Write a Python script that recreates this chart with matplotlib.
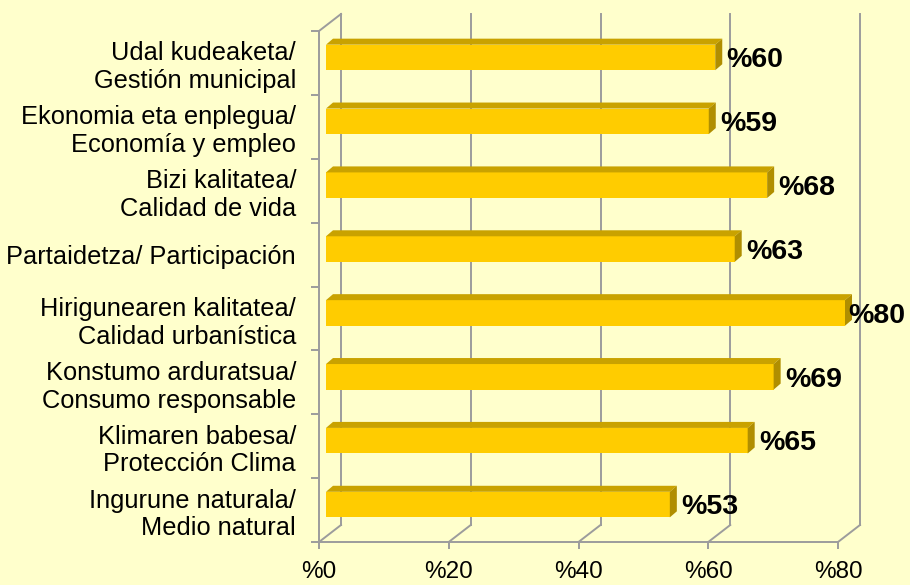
import matplotlib.pyplot as plt
import numpy as np
from matplotlib.patches import Polygon

# categories from bottom to top
categories = [
    "Ingurune naturala/\nMedio natural",
    "Klimaren babesa/\nProtección Clima",
    "Konstumo arduratsua/\nConsumo responsable",
    "Hirigunearen kalitatea/\nCalidad urbanística",
    "Partaidetza/ Participación",
    "Bizi kalitatea/\nCalidad de vida",
    "Ekonomia eta enplegua/\nEconomía y empleo",
    "Udal kudeaketa/\nGestión municipal",
]
values = [53, 65, 69, 80, 63, 68, 59, 60]
xticks = [0, 20, 40, 60, 80]
xtick_labels = ["%0", "%20", "%40", "%60", "%80"]

plt.rcParams['font.family'] = ['Liberation Sans', 'DejaVu Sans']

BG = '#FFFFCC'
FRONT = '#FFCC00'
TOP = '#C9A200'
SIDE = '#B08E00'
GRID = '#9C9C9C'

fig = plt.figure(figsize=(9.1, 5.85), dpi=100, facecolor=BG)
ax = fig.add_axes([319 / 910, 43 / 585, 541 / 910, 528 / 585])
ax.set_facecolor(BG)

# pixel -> data conversions for the fake 3D depth
PX_X = 6.4875
PX_Y = 63.875
def dx(px):
    return px / PX_X
def dy(px):
    return px / PX_Y

n = len(categories)
ax.set_xlim(0, 541 / PX_X)
ax.set_ylim(-0.5, -0.5 + 528 / PX_Y)

# back wall gridlines and floor lines
for t in xticks:
    ax.plot([t + dx(22)] * 2, [-0.5 + dy(17), n - 0.5 + dy(17)], color=GRID, lw=1.4, zorder=1, clip_on=False)
    ax.plot([t, t + dx(22)], [-0.5, -0.5 + dy(17)], color=GRID, lw=1.4, zorder=1, clip_on=False)
ax.plot([0, dx(22)], [n - 0.5, n - 0.5 + dy(17)], color=GRID, lw=1.4, zorder=1, clip_on=False)

# bars
h = 0.40
y = np.arange(n)
ax.barh(y + dy(5.5), values, height=h, left=dx(7), color=FRONT, zorder=3)
vmax = max(values)
for yi, v in zip(y, values):
    yt = yi + dy(5.5) + h / 2
    yb = yt - h
    top = Polygon([(dx(7), yt), (dx(7) + v, yt), (dx(14) + v, yt + dy(6)), (dx(14), yt + dy(6))],
                  closed=True, facecolor=TOP, edgecolor='none', zorder=3)
    side = Polygon([(dx(7) + v, yb), (dx(7) + v, yt), (dx(14) + v, yt + dy(6)), (dx(14) + v, yb + dy(6))],
                   closed=True, facecolor=SIDE, edgecolor='none', zorder=3)
    ax.add_patch(top)
    ax.add_patch(side)
    # the longest label is pulled in so it stays inside the figure
    off = 3 if v < vmax else -2.5
    ax.annotate(f"%{v}", xy=(v + dx(14), yi + dy(5.5)), xytext=(off, -2), textcoords='offset points',
                ha='left', va='center', fontsize=20.5, fontweight='bold', zorder=4)

# axes
for s in ['top', 'right']:
    ax.spines[s].set_visible(False)
ax.spines['left'].set_bounds(-0.5, n - 0.5)
ax.spines['bottom'].set_bounds(0, 80)
for s in ['left', 'bottom']:
    ax.spines[s].set_color(GRID)
    ax.spines[s].set_linewidth(1.4)

ax.set_xticks(xticks, xtick_labels)
ax.tick_params(axis='x', length=5, width=1.4, color=GRID, labelsize=17.5, pad=9)
ax.set_yticks(y, categories)
ax.set_yticks(np.arange(-0.5, n), minor=True)
ax.tick_params(axis='y', which='major', length=0, labelsize=18.3, pad=16.5)
ax.tick_params(axis='y', which='minor', length=5.8, width=1.4, color=GRID)

plt.savefig('out.png', dpi=100, facecolor=BG)
